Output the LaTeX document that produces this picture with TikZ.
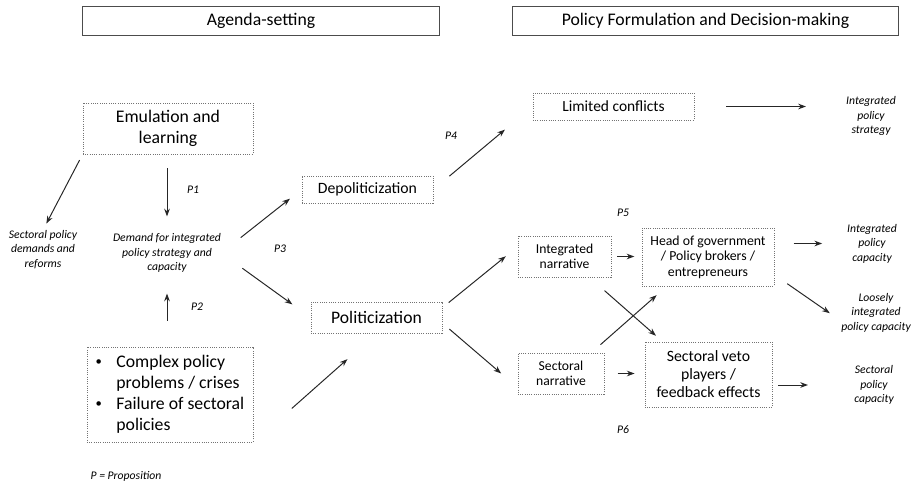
\documentclass[tikz,border=0pt]{standalone}
\usepackage{fontspec}
\setmainfont{Carlito}
\usetikzlibrary{arrows.meta,positioning}

\newcommand{\smallbullet}{\raisebox{1pt}{\fontsize{9}{9}\selectfont\textbullet}}

\begin{document}
\begin{tikzpicture}[x=0.025cm, y=-0.025cm, >={Stealth[length=5.5pt,width=4pt]},
	phase/.style={draw=black!70, line width=0.7pt, rectangle, minimum height=0.725cm, font=\fontsize{12.6}{15}\selectfont},
	box/.style={draw=black!55, densely dotted, line width=0.6pt, rectangle, align=center, inner sep=0pt},
	note/.style={align=center, inner sep=0pt, font=\fontsize{8.3}{10.3}\selectfont\itshape},
	link/.style={->, line width=0.7pt, black!85}]
	\useasboundingbox (0,0) rectangle (916,485);
	
	% Phases
	\node[phase, minimum width=8.9cm] (agenda) at (261,20.5) {Agenda-setting};
	\node[phase, minimum width=9.625cm] (formul) at (705.5,20.5) {Policy Formulation and Decision-making};
	
	% Agenda-setting
	\node[box, minimum width=4.25cm, minimum height=1.275cm, font=\fontsize{12.6}{15}\selectfont] (emul) at (168,128.5) {Emulation and\\learning};
	\node[note] (sdem) at (43,249.5) {Sectoral policy\\demands and\\reforms};
	\node[note] (demand) at (167,253) {Demand for integrated\\policy strategy and\\capacity};
	\node[box, minimum width=4.15cm, minimum height=2.375cm, font=\fontsize{12.6}{15}\selectfont] (complex) at (170,394.5) {\begin{tabular}{@{}l@{\hspace{0.36cm}}l@{}}\smallbullet & Complex policy\\ & problems / crises\\ \smallbullet & Failure of sectoral\\ & policies\end{tabular}};
	\node[note] (p1) at (193,190) {P1};
	\node[note] (p2) at (197,307) {P2};
	\node[note] (p3) at (280,249) {P3};
	\node[note] (propo) at (126,476) {P = Proposition};
	
	% Policy formulation and decision-making
	\node[box, minimum width=3.275cm, minimum height=0.675cm, font=\fontsize{11.2}{13}\selectfont] (depol) at (367.5,189.5) {Depoliticization};
	\node[box, minimum width=3.275cm, minimum height=0.775cm, font=\fontsize{12.5}{15}\selectfont] (polit) at (376.5,317.5) {Politicization};
	\node[box, minimum width=4.025cm, minimum height=0.675cm, font=\fontsize{11}{13}\selectfont] (limit) at (613.5,106.5) {Limited conflicts};
	\node[note] (ips) at (871,116) {Integrated\\policy\\strategy};
	\node[box, minimum width=2.325cm, minimum height=1.025cm, font=\fontsize{9.7}{10.8}\selectfont] (intnar) at (564.5,256.5) {Integrated\\narrative};
	\node[box, minimum width=2.15cm, minimum height=1.025cm, font=\fontsize{9.7}{10.8}\selectfont] (secnar) at (561,373.5) {Sectoral\\narrative};
	\node[box, minimum width=3.3cm, minimum height=1.45cm, font=\fontsize{9.8}{11}\selectfont] (head) at (708,257) {Head of government\\/ Policy brokers /\\entrepreneurs};
	\node[box, minimum width=3.175cm, minimum height=1.625cm, font=\fontsize{11.2}{12.8}\selectfont] (veto) at (708.5,374.5) {Sectoral veto\\players /\\feedback effects};
	\node[note] (ipc) at (872,243.5) {Integrated\\policy\\capacity};
	\node[note] (loose) at (876,312.5) {Loosely\\integrated\\policy capacity};
	\node[note] (spc) at (874,385) {Sectoral\\policy\\capacity};
	\node[note] (p4) at (451,136) {P4};
	\node[note] (p5) at (623,213) {P5};
	\node[note] (p6) at (623,430) {P6};
	
	% Arrows
	\draw[link, shorten <=0.35cm, shorten >=0.42cm] (demand.north |- emul.south) -- (demand.north);
	\draw[link, shorten <=0.16cm, shorten >=0.18cm] (emul.south west) -- (sdem.north);
	\draw[link, shorten <=0.65cm, shorten >=0.52cm] (demand.south |- complex.north) -- (demand.south);
	\draw[link, shorten <=0.62cm, shorten >=0.37cm] (demand.east) -- (depol.west);
	\draw[link, shorten <=0.65cm, shorten >=0.56cm] (demand.east) -- (polit.west);
	\draw[link, shorten <=1.28cm, shorten >=0.97cm] (complex.south east) -- (polit.south);
	\draw[link, shorten <=0.52cm, shorten >=0.9cm] (depol.east) -- (limit.west);
	\draw[link, shorten <=0.8cm, shorten >=1cm] (limit.east) -- (limit.east -| ips.west);
	\draw[link, shorten <=0.2cm, shorten >=0.38cm] ([yshift=7pt]polit.east) -- ([yshift=7pt]intnar.west);
	\draw[link, shorten <=0.23cm, shorten >=0.54cm] ([yshift=-4pt]polit.east) -- ([yshift=-10pt]secnar.west);
	\draw[link, shorten <=0.15cm, shorten >=0.18cm] (intnar.east) -- (intnar.east -| head.west);
	\draw[link, shorten <=0.33cm, shorten >=0.25cm] (secnar.east) -- (secnar.east -| veto.west);
	\draw[link, shorten <=0.5cm, shorten >=0.22cm] ([xshift=-15.6pt]intnar.south east) -- ([xshift=12.8pt]veto.north west);
	\draw[link, shorten <=0.3cm, shorten >=0.33cm] ([xshift=-9.2pt]secnar.north east) -- ([xshift=17.8pt]head.south west);
	\draw[link, shorten <=0.48cm, shorten >=0.62cm] (head.east |- ipc.west) -- (ipc.west);
	\draw[link, shorten <=0.39cm, shorten >=0.34cm] (head.-15) -- ([yshift=-6pt]loose.west);
	\draw[link, shorten <=0.15cm, shorten >=1.15cm] (veto.east |- spc.west) -- (spc.west);
	
\end{tikzpicture}
\end{document}
